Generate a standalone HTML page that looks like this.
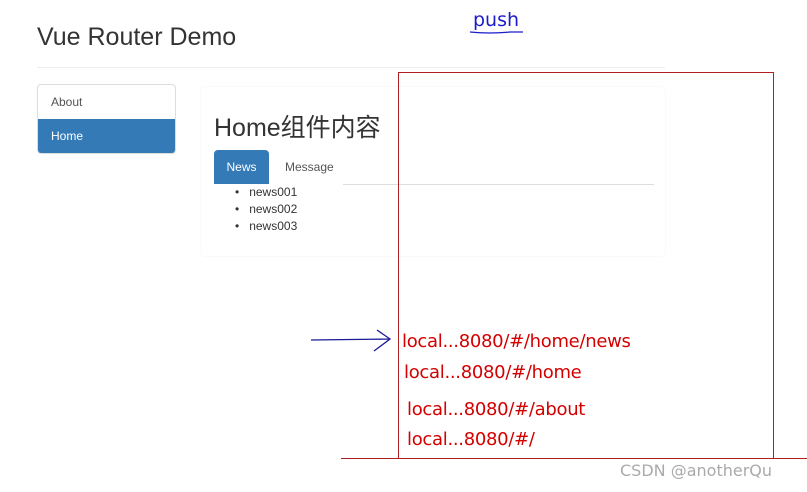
<!DOCTYPE html>
<html><head><meta charset="utf-8"><style>
body{margin:0;width:807px;height:492px;background:#fff;position:relative;overflow:hidden;font-family:"Liberation Sans","Noto Sans CJK SC",sans-serif;color:#333}
.a{position:absolute;white-space:nowrap}
.r{color:#d40000;font-size:18px;font-family:"DejaVu Sans","Liberation Sans",sans-serif;letter-spacing:-0.3px}
</style></head><body>
<div class="a" style="left:37px;top:21px;font-size:25px;line-height:32px">Vue Router Demo</div>
<div class="a" style="left:37px;top:67px;width:628px;height:1px;background:#eee"></div>
<div class="a" style="left:37px;top:84px;width:137px;height:68px;border:1px solid #ddd;border-radius:4px;overflow:hidden">
 <div style="height:34px;line-height:34px;padding-left:13px;font-size:12px;color:#555">About</div>
 <div style="height:35px;line-height:35px;padding-left:13px;font-size:12px;color:#fff;background:#337ab7">Home</div>
</div>
<div class="a" style="left:201px;top:87px;width:464px;height:169px;border-radius:4px;box-shadow:0 0 2px rgba(0,0,0,0.07)"></div>
<div class="a" style="left:214px;top:112px;font-size:25px;line-height:32px">Home组件内容</div>
<div class="a" style="left:214px;top:150px;width:55px;height:34px;background:#337ab7;border-radius:4px 4px 0 0;color:#fff;font-size:12px;line-height:34px;text-align:center">News</div>
<div class="a" style="left:285px;top:150px;font-size:12px;line-height:34px;color:#555">Message</div>
<div class="a" style="left:343px;top:184px;width:311px;height:1px;background:#ddd"></div>
<div class="a" style="left:235px;top:184px;font-size:12px;line-height:17px">•&nbsp;&nbsp;&nbsp;news001<br>•&nbsp;&nbsp;&nbsp;news002<br>•&nbsp;&nbsp;&nbsp;news003</div>
<div class="a" style="left:398px;top:72px;width:374px;height:386px;border:1px solid #b02020;border-bottom:none"></div>
<div class="a" style="left:341px;top:458px;width:466px;height:1px;background:#b02020"></div>
<div class="a r" style="left:402px;top:331px">local...8080/#/home/news</div>
<div class="a r" style="left:404px;top:362px">local...8080/#/home</div>
<div class="a r" style="left:407px;top:399px">local...8080/#/about</div>
<div class="a r" style="left:407px;top:429px">local...8080/#/</div>
<div class="a" style="left:473px;top:9px;font-size:19px;color:#1a1acc;font-family:'DejaVu Sans',sans-serif">push</div>
<svg class="a" style="left:0;top:0" width="807" height="492">
<path d="M470 32 Q490 34 510 32 L523 32" stroke="#1a1acc" stroke-width="1.3" fill="none"/>
<path d="M311 340 L390 339 M377 330 L390 339 L374 351" stroke="#1a1a99" stroke-width="1.3" fill="none"/>
</svg>
<div class="a" style="left:620px;top:461px;font-size:16px;color:#aaa;font-family:'DejaVu Sans',sans-serif">CSDN @anotherQu</div>
</body></html>
